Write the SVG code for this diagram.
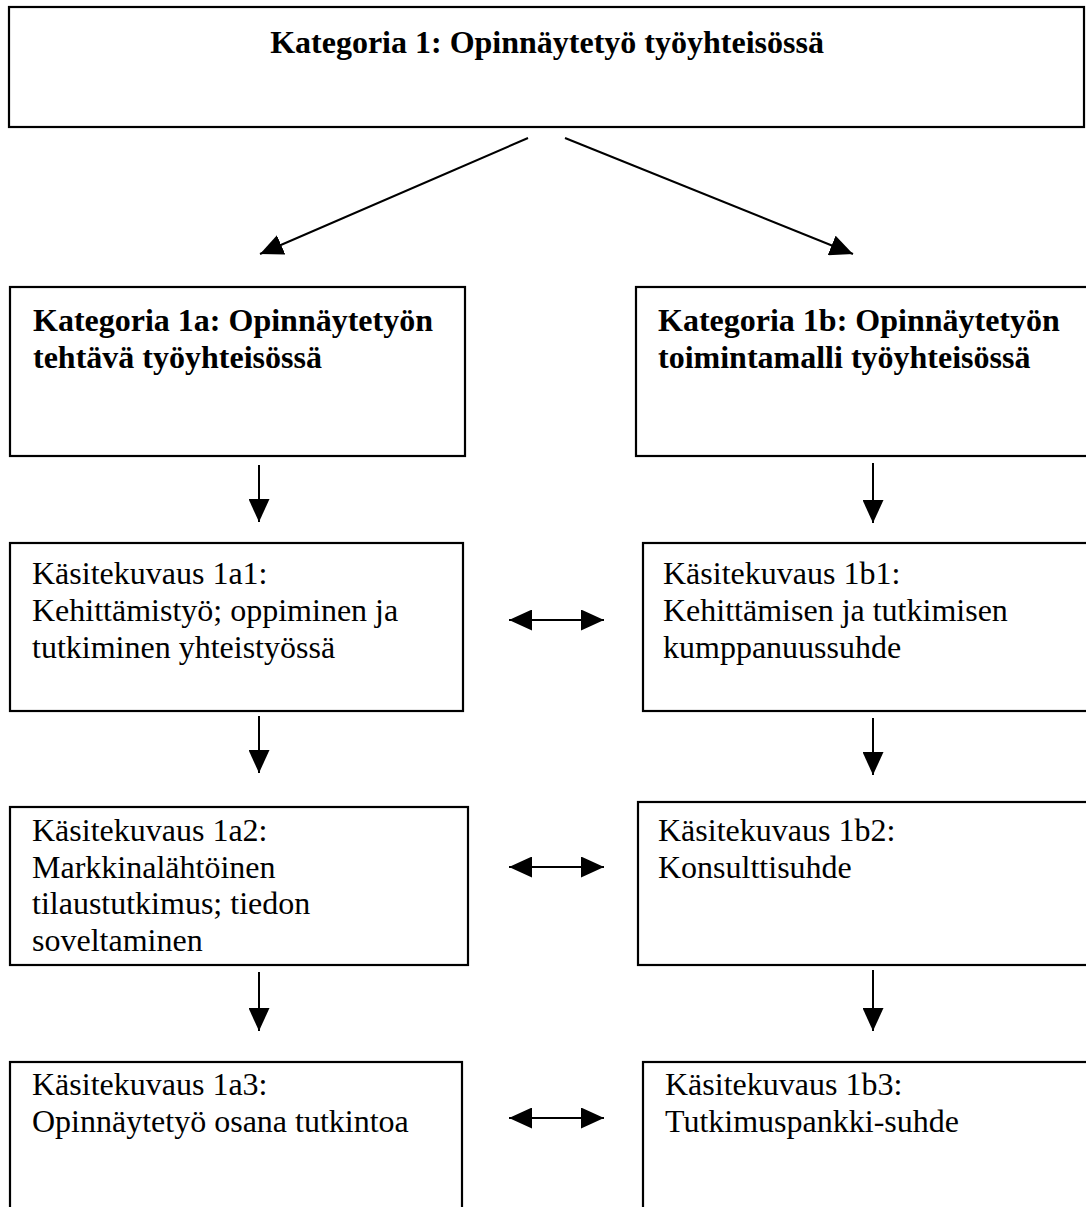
<svg xmlns="http://www.w3.org/2000/svg" width="1086" height="1207" viewBox="0 0 1086 1207">
<style>
.box{fill:#fff;stroke:#000;stroke-width:2.2}
.t{font-family:"Liberation Serif","Times New Roman",serif;font-size:32px;fill:#000}
.b{font-weight:bold}
.c{stroke:#000;stroke-width:2;fill:none}
</style>
<defs>
<marker id="ah" markerUnits="userSpaceOnUse" markerWidth="23" markerHeight="21" refX="23" refY="10.5" orient="auto-start-reverse" viewBox="0 0 23 21">
<path d="M0,0 L23,10.5 L0,21 z" fill="#000"/>
</marker>
</defs>
<rect width="1086" height="1207" fill="#fff"/>
<g id="k1">
<rect class="box" x="9" y="7" width="1075" height="120"/>
<text class="t b" x="547" y="53" text-anchor="middle">Kategoria 1: Opinnäytetyö työyhteisössä</text>
</g>
<g id="k1a">
<rect class="box" x="10" y="287" width="455" height="169"/>
<text class="t b" x="33" y="331">Kategoria 1a: Opinnäytetyön</text>
<text class="t b" x="33" y="368">tehtävä työyhteisössä</text>
</g>
<g id="k1b">
<rect class="box" x="636" y="287" width="480" height="169"/>
<text class="t b" x="658" y="331">Kategoria 1b: Opinnäytetyön</text>
<text class="t b" x="658" y="368">toimintamalli työyhteisössä</text>
</g>
<g id="k1a1">
<rect class="box" x="10" y="543" width="453" height="168"/>
<text class="t" x="32" y="584">Käsitekuvaus 1a1:</text>
<text class="t" x="32" y="621">Kehittämistyö; oppiminen ja</text>
<text class="t" x="32" y="658">tutkiminen yhteistyössä</text>
</g>
<g id="k1b1">
<rect class="box" x="643" y="543" width="480" height="168"/>
<text class="t" x="663" y="584">Käsitekuvaus 1b1:</text>
<text class="t" x="663" y="621">Kehittämisen ja tutkimisen</text>
<text class="t" x="663" y="658">kumppanuussuhde</text>
</g>
<g id="k1a2">
<rect class="box" x="10" y="807" width="458" height="158"/>
<text class="t" x="32" y="841">Käsitekuvaus 1a2:</text>
<text class="t" x="32" y="878">Markkinalähtöinen</text>
<text class="t" x="32" y="914">tilaustutkimus; tiedon</text>
<text class="t" x="32" y="951">soveltaminen</text>
</g>
<g id="k1b2">
<rect class="box" x="638" y="802" width="480" height="163"/>
<text class="t" x="658" y="841">Käsitekuvaus 1b2:</text>
<text class="t" x="658" y="878">Konsulttisuhde</text>
</g>
<g id="k1a3">
<rect class="box" x="10" y="1062" width="452" height="200"/>
<text class="t" x="32" y="1095">Käsitekuvaus 1a3:</text>
<text class="t" x="32" y="1132">Opinnäytetyö osana tutkintoa</text>
</g>
<g id="k1b3">
<rect class="box" x="643" y="1062" width="480" height="200"/>
<text class="t" x="665" y="1095">Käsitekuvaus 1b3:</text>
<text class="t" x="665" y="1132">Tutkimuspankki-suhde</text>
</g>
<g id="connectors">
<line class="c" x1="528" y1="138" x2="260" y2="254" marker-end="url(#ah)"/>
<line class="c" x1="565" y1="138" x2="853" y2="254" marker-end="url(#ah)"/>
<line class="c" x1="259" y1="465" x2="259" y2="522" marker-end="url(#ah)"/>
<line class="c" x1="259" y1="716" x2="259" y2="773" marker-end="url(#ah)"/>
<line class="c" x1="259" y1="972" x2="259" y2="1031" marker-end="url(#ah)"/>
<line class="c" x1="873" y1="463" x2="873" y2="523" marker-end="url(#ah)"/>
<line class="c" x1="873" y1="718" x2="873" y2="775" marker-end="url(#ah)"/>
<line class="c" x1="873" y1="970" x2="873" y2="1031" marker-end="url(#ah)"/>
<line class="c" x1="509" y1="620" x2="604" y2="620" marker-start="url(#ah)" marker-end="url(#ah)"/>
<line class="c" x1="509" y1="867" x2="604" y2="867" marker-start="url(#ah)" marker-end="url(#ah)"/>
<line class="c" x1="509" y1="1118" x2="604" y2="1118" marker-start="url(#ah)" marker-end="url(#ah)"/>
</g>
</svg>
